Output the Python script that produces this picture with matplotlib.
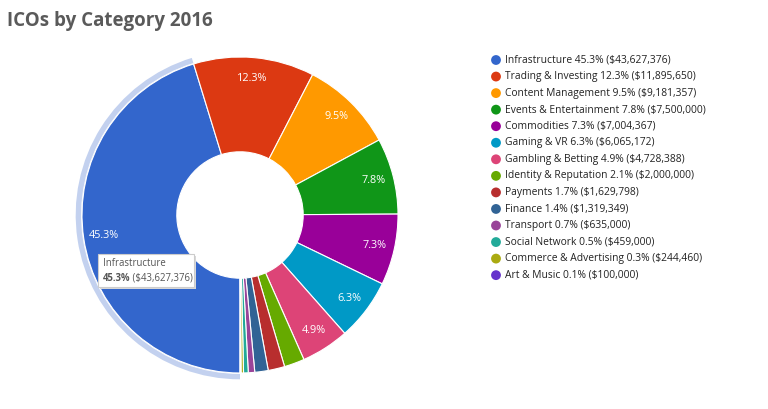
import matplotlib.pyplot as plt
import numpy as np
from matplotlib.patches import Wedge, Rectangle

plt.rcParams['font.family'] = ['Open Sans', 'DejaVu Sans']

categories = ["Infrastructure", "Trading & Investing", "Content Management",
              "Events & Entertainment", "Commodities", "Gaming & VR",
              "Gambling & Betting", "Identity & Reputation", "Payments",
              "Finance", "Transport", "Social Network",
              "Commerce & Advertising", "Art & Music"]
amounts = [43627376, 11895650, 9181357, 7500000, 7004367, 6065172, 4728388,
           2000000, 1629798, 1319349, 635000, 459000, 244460, 100000]
colors = ["#3366cc", "#dc3912", "#ff9900", "#109618", "#990099", "#0099c6",
          "#dd4477", "#66aa00", "#b82e2e", "#316395", "#994499", "#22aa99",
          "#aaaa11", "#6633cc"]

W, H = 768, 409
fig = plt.figure(figsize=(W / 100, H / 100), dpi=100)

# pie centre (240, 215) px, radius 158 px
cx, cy, half = 240, 215, 180
ax = fig.add_axes([(cx - half) / W, (H - cy - half) / H, 2 * half / W, 2 * half / H])
ax.pie(amounts, colors=colors, startangle=-90, counterclock=False, radius=1,
       wedgeprops=dict(width=0.6, edgecolor="white", linewidth=0.8))
lim = half / 158
ax.set_xlim(-lim, lim)
ax.set_ylim(-lim, lim)
ax.set_aspect("equal")
ax.axis("off")

total = sum(amounts)
fracs = np.array(amounts) / total
cum = np.concatenate([[0], np.cumsum(fracs)])

# hover ring on the first slice
ax.add_patch(Wedge((0, 0), 1.04, -90 - cum[1] * 360, -90, width=0.034,
                   facecolor="#c3d1ef", edgecolor="none"))

# percentage labels on the larger slices
for i, f in enumerate(fracs):
    if f < 0.04:
        continue
    mid = np.deg2rad(-90 - (cum[i] + cum[i + 1]) / 2 * 360)
    r = 0.87
    ax.text(r * np.cos(mid), r * np.sin(mid), f"{f * 100:.1f}%", color="white",
            fontsize=7.8, ha="center", va="center")

# overlay in pixel coordinates for title, legend and tooltip
ov = fig.add_axes([0, 0, 1, 1])
ov.set_xlim(0, W)
ov.set_ylim(H, 0)
ov.axis("off")
ov.patch.set_alpha(0)

ov.text(7, 21, "ICOs by Category 2016", fontsize=13.5, fontweight="bold",
        color="#5a5a5a", va="center", ha="left")

y0, dy = 60, 16.55
for i, (c, v) in enumerate(zip(categories, amounts)):
    y = y0 + i * dy
    ov.scatter([496], [y], s=50, color=colors[i], edgecolors="none")
    ov.text(505, y, f"{c} {v / total * 100:.1f}% (${v:,})", fontsize=7.35,
            color="#222222", va="center", ha="left")

# tooltip
ov.add_patch(Rectangle((100, 256), 96, 33, facecolor="#d8d8d8", edgecolor="none"))
ov.add_patch(Rectangle((98, 254), 96, 33, facecolor="white", edgecolor="#cccccc",
                       linewidth=0.8))
ov.text(103, 264, categories[0], fontsize=6.9, color="#555555", va="center")
t = ov.text(103, 278.5, f"{fracs[0] * 100:.1f}%", fontsize=6.9, color="#555555",
            va="center", fontweight="bold")
ov.annotate(f" (${amounts[0]:,})", xycoords=t, xy=(1, 0.5), va="center",
            fontsize=6.9, color="#555555")

fig.savefig("out.png", dpi=100)
